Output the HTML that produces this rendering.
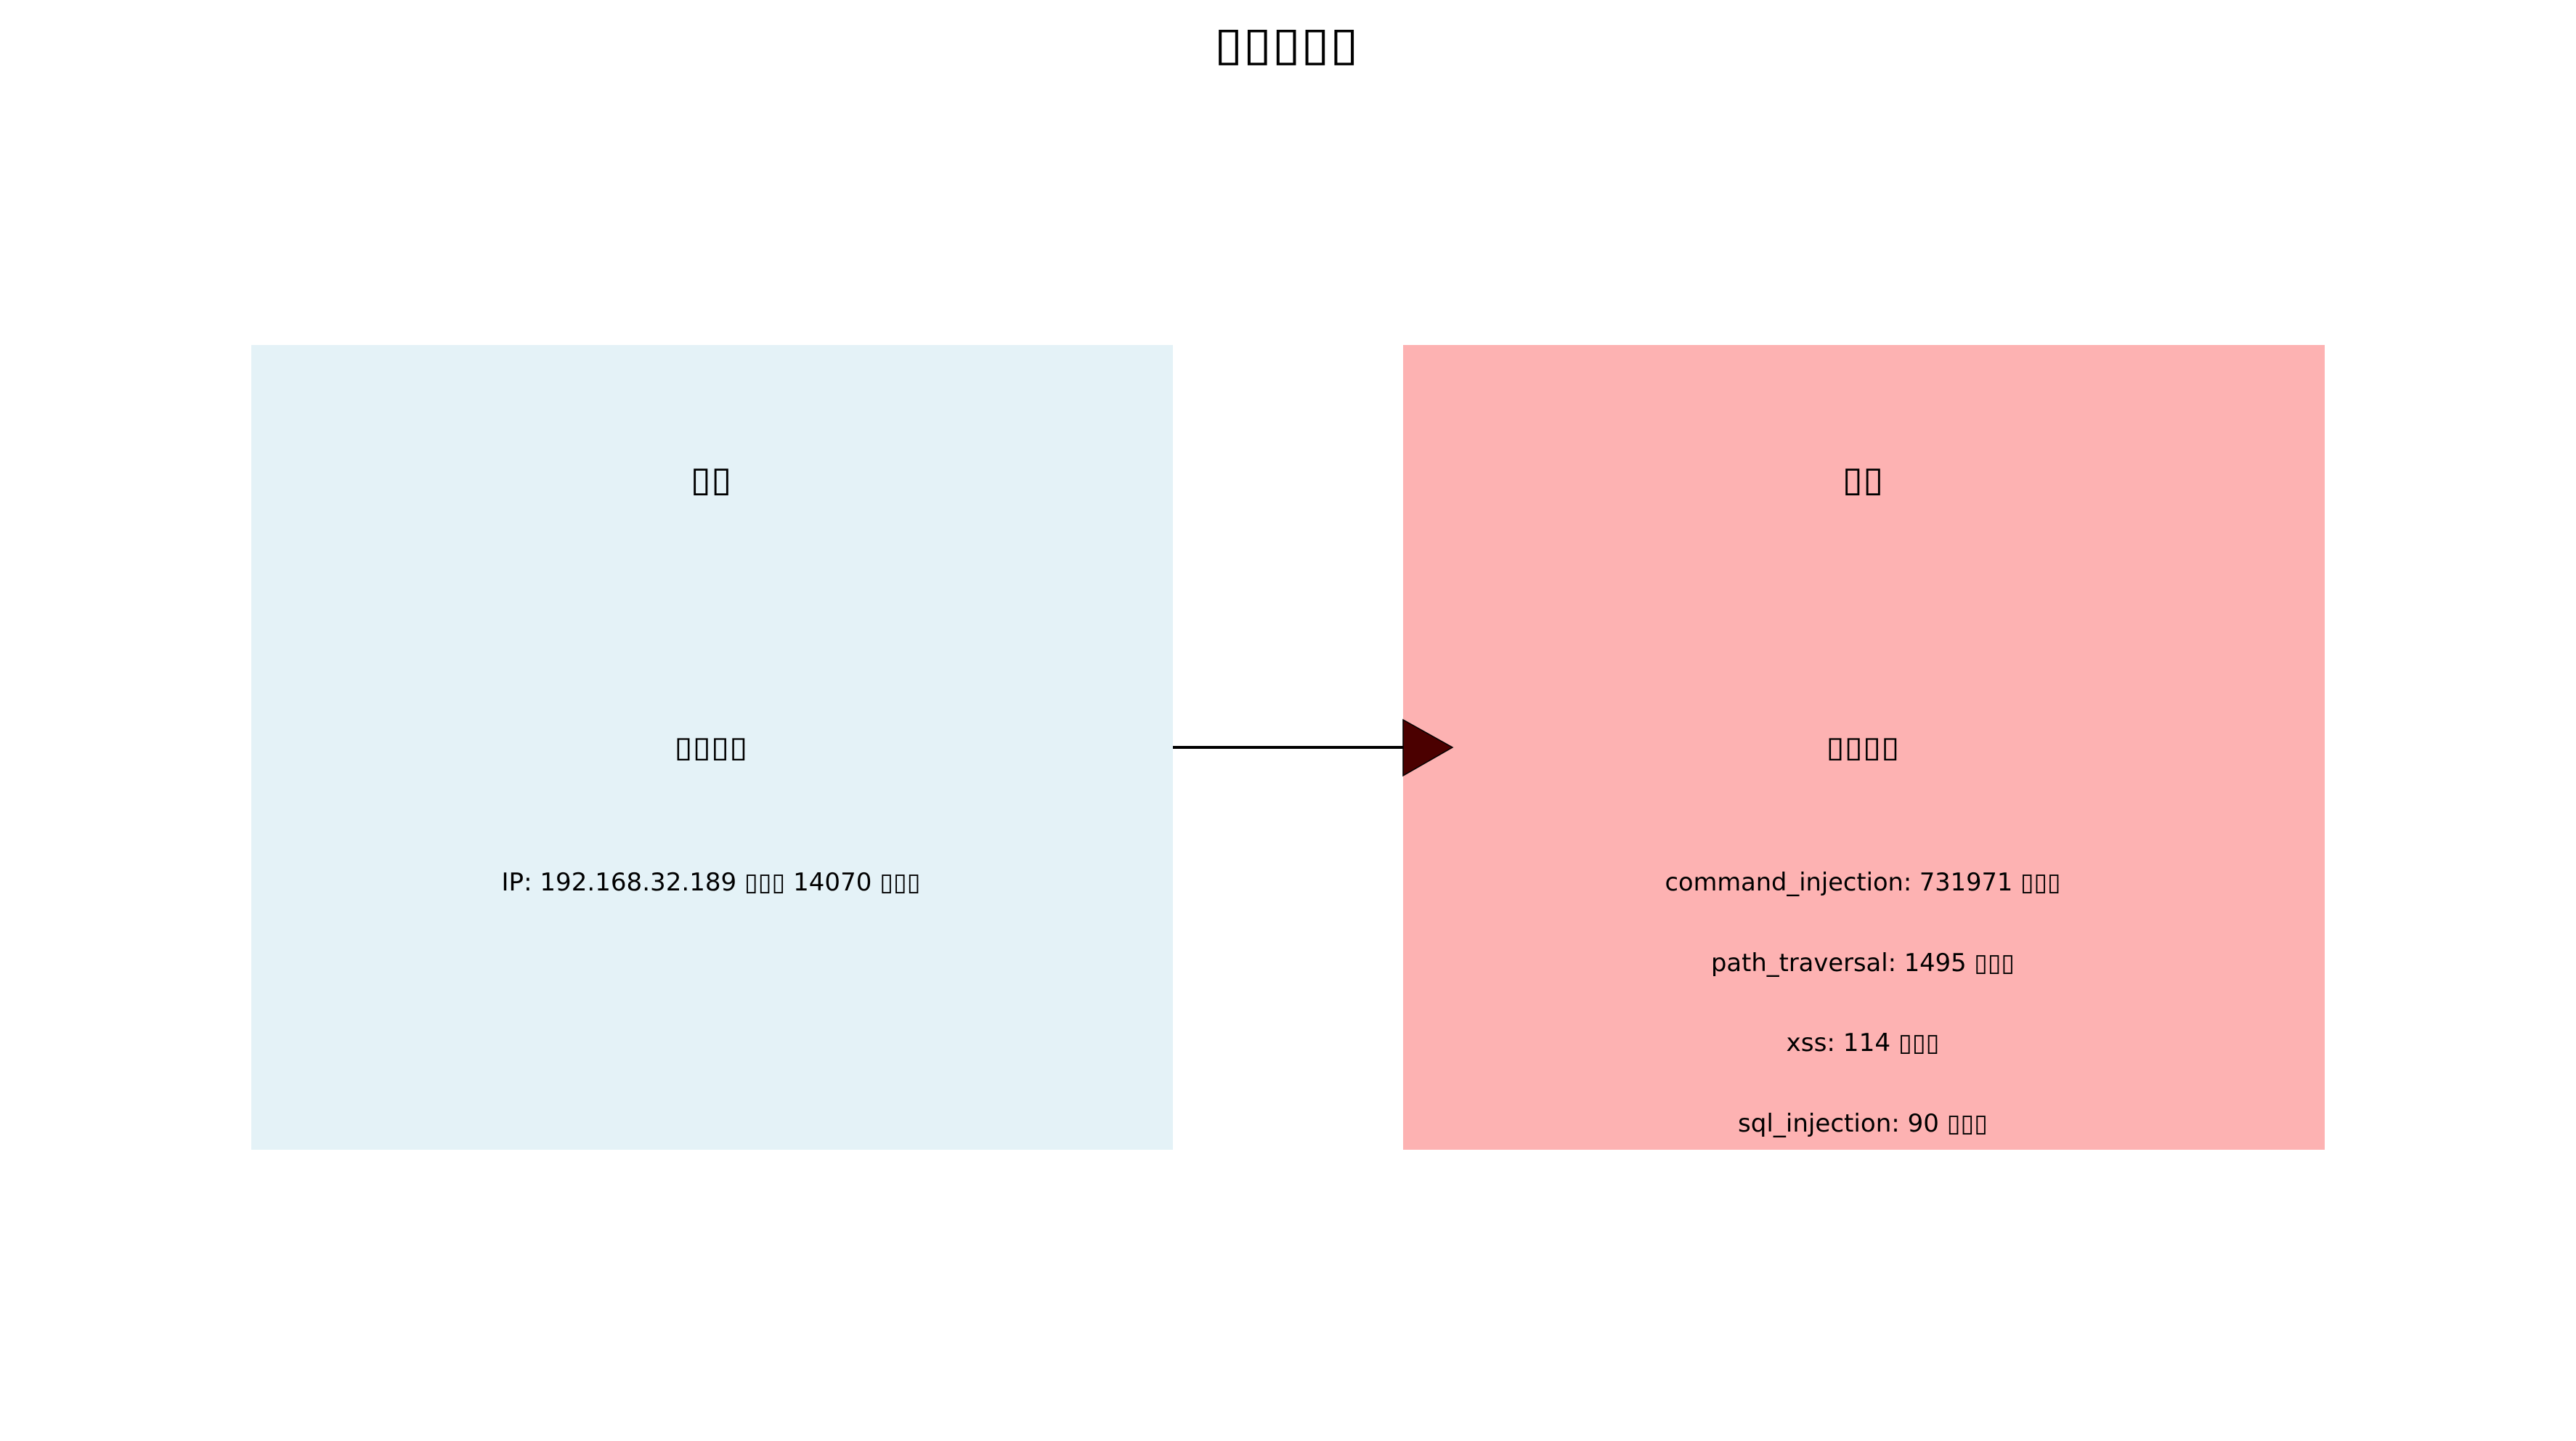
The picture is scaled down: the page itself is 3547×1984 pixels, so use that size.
<!DOCTYPE html>
<html><head><meta charset="utf-8"><style>
html,body{margin:0;padding:0;background:#fff;}
svg{display:block;}
text{font-family:"DejaVu Sans","Liberation Sans",sans-serif;fill:#000;}
</style></head><body>
<svg width="3547" height="1984" viewBox="0 0 3547 1984" xmlns="http://www.w3.org/2000/svg">
<rect x="0" y="0" width="3547" height="1984" fill="#fff"/>
<text x="1771" y="61" font-size="64" text-anchor="middle" dominant-baseline="central" textLength="199" lengthAdjust="spacingAndGlyphs">▯▯▯▯▯</text>
<rect x="346" y="475" width="1269" height="1108" fill="#e4f2f7"/>
<rect x="1932" y="475" width="1269" height="1108" fill="#fdb2b2"/>
<line x1="1615" y1="1029" x2="1935" y2="1029" stroke="#000" stroke-width="4"/>
<polygon points="1932,991 2000,1029 1932,1068" fill="#4b0000" stroke="#000" stroke-width="1.5"/>
<text x="979" y="660" font-size="48" text-anchor="middle" dominant-baseline="central" textLength="57" lengthAdjust="spacingAndGlyphs">▯▯</text>
<text x="2565" y="660" font-size="48" text-anchor="middle" dominant-baseline="central" textLength="57" lengthAdjust="spacingAndGlyphs">▯▯</text>
<text x="979" y="1029" font-size="40" text-anchor="middle" dominant-baseline="central" textLength="101" lengthAdjust="spacingAndGlyphs">▯▯▯▯</text>
<text x="2565" y="1029" font-size="40" text-anchor="middle" dominant-baseline="central" textLength="101" lengthAdjust="spacingAndGlyphs">▯▯▯▯</text>
<text x="979" y="1215" font-size="34" text-anchor="middle" dominant-baseline="central" textLength="577" lengthAdjust="spacingAndGlyphs">IP: 192.168.32.189 ▯▯▯ 14070 ▯▯▯</text>
<text x="2565" y="1215" font-size="34" text-anchor="middle" dominant-baseline="central" textLength="545" lengthAdjust="spacingAndGlyphs">command_injection: 731971 ▯▯▯</text>
<text x="2565" y="1326" font-size="34" text-anchor="middle" dominant-baseline="central" textLength="418" lengthAdjust="spacingAndGlyphs">path_traversal: 1495 ▯▯▯</text>
<text x="2565" y="1436" font-size="34" text-anchor="middle" dominant-baseline="central" textLength="211" lengthAdjust="spacingAndGlyphs">xss: 114 ▯▯▯</text>
<text x="2565" y="1547" font-size="34" text-anchor="middle" dominant-baseline="central" textLength="344" lengthAdjust="spacingAndGlyphs">sql_injection: 90 ▯▯▯</text>
</svg>
</body></html>
